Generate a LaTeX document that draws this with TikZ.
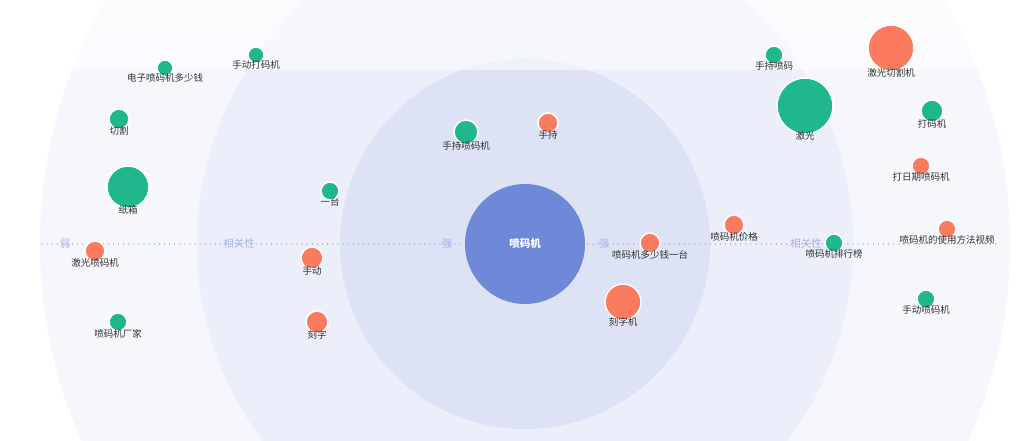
\documentclass[tikz,border=0pt]{standalone}
\usepackage{fontspec}
\setmainfont{Noto Sans CJK SC}
\begin{document}
\begin{tikzpicture}[x=1pt,y=-1pt,
 g/.style={circle,fill=gr,draw=white,line width=1.5pt,inner sep=0pt},
 o/.style={circle,fill=og,draw=white,line width=1.5pt,inner sep=0pt},
 lb/.style={font=\fontsize{9.5}{11}\selectfont,text=black!80},
 ax/.style={font=\fontsize{10.5}{12}\selectfont,text=axc}]
\definecolor{gr}{HTML}{21B78C}
\definecolor{og}{HTML}{FB7B5F}
\definecolor{cen}{HTML}{6F88D8}
\definecolor{axc}{HTML}{A9B4E6}
\definecolor{r1}{HTML}{F6F7FD}
\definecolor{r2}{HTML}{ECEFFA}
\definecolor{r3}{HTML}{DEE2F5}
\useasboundingbox (0,0) rectangle (1027,441);
\fill[white] (0,0) rectangle (1027,441);
\begin{scope}
\clip (0,0) rectangle (1027,441);
\fill[r1] (525,244) circle (485);
\fill[r2] (525,244) circle (328);
\fill[r3] (525,244) circle (185);
\end{scope}
\fill[white,opacity=0.6] (0,0) rectangle (1027,40);
\fill[white,opacity=0.5] (0,40) rectangle (1027,70);
\draw[axc,line width=1.2pt,dash pattern=on 0.1pt off 5pt,line cap=round] (42,244) -- (1000,244);
\foreach \x/\t in {65/弱,239/相关性,447/强,604/强,806/相关性}
 \node[ax,inner sep=1pt] at (\x,244) {\t};
\node[circle,fill=cen,minimum size=120pt,inner sep=0pt] (c) at (525,244) {};
\node[text=white,font=\fontsize{10.5}{12}\selectfont\bfseries] at (c) {喷码机};
\foreach \n/\s/\x/\y/\r/\t in {
 a/g/165/68/8/电子喷码机多少钱, b/g/256/55/8/手动打码机, d/g/119/119/10/切割,
 e/g/128/187/21/纸箱, f/o/95/251/10/激光喷码机, h/g/118/322/9/喷码机厂家,
 i/g/330/191/9/一台, j/o/312/258/11/手动, k/o/317/322/11/刻字,
 l/g/466/132/12/手持喷码机, m/o/548/123/10/手持, n/o/650/243/10/喷码机多少钱一台,
 p/o/623/302/18/刻字机, q/o/734/225/10/喷码机价格, r/g/834/243/9/喷码机排行榜,
 s/g/774/55/9/手持喷码, t/o/891/48/23/激光切割机, u/g/805/106/28/激光,
 v/g/932/111/11/打码机, w/o/921/166/9/打日期喷码机, z/o/947/229/9/喷码机的使用方法视频,
 y/g/926/299/9/手动喷码机}
 {\node[\s,minimum size=2*\r pt] (\n) at (\x,\y) {};
  \node[lb,anchor=north,inner sep=1pt] at ([yshift=4pt]\n.south) {\t};}
\end{tikzpicture}
\end{document}
